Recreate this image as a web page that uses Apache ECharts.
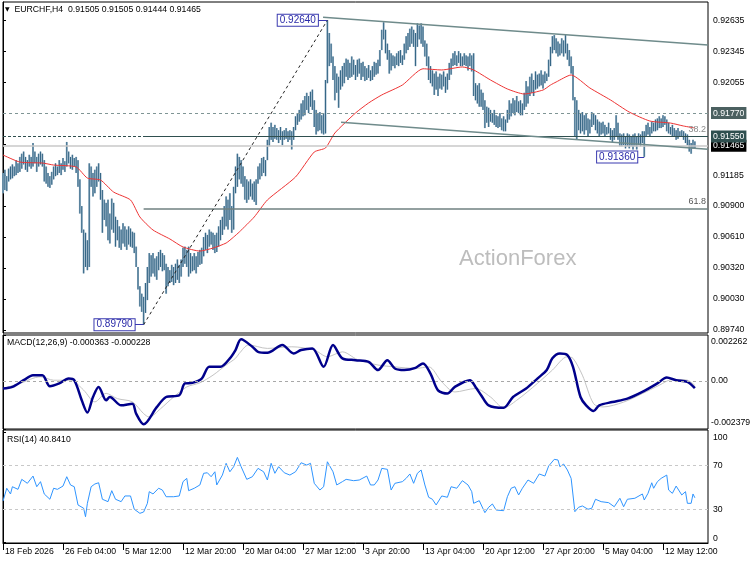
<!DOCTYPE html>
<html>
<head>
<meta charset="utf-8">
<title>EURCHF H4</title>
<script src="https://cdn.jsdelivr.net/npm/echarts@6.0.0/dist/echarts.min.js"></script>
<style>
  html, body { margin: 0; padding: 0; background: #fff; }
  #chart { width: 750px; height: 563px; }
</style>
</head>
<body>
<div id="chart"></div>
<script>
// ============================================================
// Data (prices in units of 0.0001, MACD in units of 0.0001)
// ============================================================
const timeLabels = ['18 Feb 2026', '26 Feb 04:00', '5 Mar 12:00', '12 Mar 20:00', '20 Mar 04:00', '27 Mar 12:00',
  '3 Apr 20:00', '13 Apr 04:00', '20 Apr 12:00', '27 Apr 20:00', '5 May 04:00', '12 May 12:00'];
const barsPerLabel = 32;

const priceTicks = [0.92635, 0.92345, 0.92055, 0.91765, 0.91475, 0.91185, 0.90900, 0.90610, 0.90320, 0.90030, 0.89740];
const priceLabels = [0.92635, 0.92345, 0.92055, 0.91185, 0.90900, 0.90610, 0.90320, 0.90030, 0.89740];

const highs = [
  9121,9124,9118,9125,9127,9129,9127,9133,9130,9136,
  9139,9141,9136,9133,9138,9136,9149,9141,9136,9139,
  9141,9139,9133,9127,9121,9118,9122,9127,9130,9127,
  9133,9130,9135,9132,9150,9141,9136,9138,9135,9136,
  9133,9115,9090,9068,9065,9058,9130,9127,9121,9124,
  9127,9130,9121,9105,9096,9093,9096,9083,9097,9093,
  9080,9077,9071,9068,9074,9071,9068,9071,9069,9066,
  9065,9052,9033,9015,9008,9005,9018,9033,9046,9044,
  9046,9041,9043,9047,9049,9046,9044,9036,9033,9030,
  9035,9033,9036,9040,9035,9040,9051,9052,9049,9052,
  9046,9043,9046,9043,9047,9049,9051,9061,9065,9063,
  9068,9066,9065,9063,9065,9071,9077,9080,9090,9099,
  9096,9102,9090,9108,9127,9139,9136,9133,9127,9118,
  9115,9113,9115,9111,9113,9115,9127,9130,9135,9136,
  9133,9152,9164,9168,9164,9166,9163,9161,9164,9160,
  9161,9163,9160,9161,9160,9164,9174,9177,9180,9186,
  9189,9193,9196,9193,9197,9199,9189,9180,9177,9178,
  9175,9177,9208,9264,9252,9242,9230,9221,9214,9211,
  9217,9221,9224,9228,9227,9224,9230,9227,9222,9227,
  9228,9224,9225,9221,9219,9222,9217,9221,9225,9224,
  9227,9236,9255,9262,9255,9242,9236,9233,9231,9230,
  9233,9235,9236,9231,9242,9249,9252,9256,9258,9255,
  9252,9261,9259,9261,9258,9245,9242,9230,9221,9217,
  9214,9216,9211,9214,9213,9216,9211,9214,9224,9228,
  9233,9235,9231,9235,9233,9230,9233,9231,9230,9233,
  9231,9233,9205,9203,9205,9199,9196,9189,9183,9182,
  9180,9177,9180,9175,9174,9177,9172,9174,9171,9180,
  9189,9186,9191,9189,9193,9188,9189,9186,9196,9207,
  9202,9211,9214,9208,9216,9213,9214,9217,9213,9216,
  9214,9227,9239,9249,9250,9247,9244,9242,9247,9245,
  9250,9242,9236,9230,9221,9192,9189,9180,9177,9178,
  9175,9177,9172,9171,9178,9177,9175,9171,9169,9168,
  9169,9166,9164,9168,9163,9161,9163,9175,9168,9158,
  9157,9158,9155,9158,9157,9155,9157,9158,9155,9158,
  9157,9160,9160,9166,9168,9164,9169,9168,9171,9172,
  9174,9172,9175,9174,9171,9168,9164,9166,9163,9161,
  9163,9160,9161,9160,9158,9157,9152,9149,9152,9150.5
];
const lows = [
  9102,9105,9104,9113,9115,9116,9118,9119,9121,9122,
  9125,9129,9124,9122,9127,9125,9127,9130,9122,9127,
  9129,9127,9113,9111,9108,9107,9110,9115,9118,9119,
  9121,9119,9124,9122,9127,9130,9125,9124,9127,9121,
  9108,9083,9065,9027,9033,9030,9033,9108,9099,9102,
  9108,9113,9096,9065,9077,9071,9058,9055,9068,9065,
  9052,9058,9051,9049,9055,9052,9049,9054,9052,9051,
  9046,9033,9012,8996,8991,8979,8990,9002,9018,9024,
  9027,9024,9021,9030,9033,9029,9030,9008,9015,9018,
  9019,9016,9018,9021,9018,9024,9033,9036,9033,9024,
  9027,9029,9030,9027,9033,9035,9036,9043,9049,9046,
  9052,9054,9049,9046,9047,9052,9058,9063,9068,9071,
  9068,9077,9065,9068,9102,9108,9115,9111,9108,9096,
  9093,9096,9099,9096,9094,9091,9111,9115,9118,9121,
  9118,9133,9146,9152,9150,9153,9152,9149,9152,9147,
  9152,9153,9150,9152,9143,9152,9161,9166,9169,9171,
  9174,9175,9180,9177,9183,9180,9164,9157,9160,9161,
  9158,9157,9158,9205,9221,9224,9208,9189,9196,9182,
  9199,9202,9205,9211,9208,9210,9211,9213,9208,9211,
  9214,9208,9211,9207,9208,9210,9207,9208,9211,9213,
  9214,9221,9236,9246,9233,9227,9214,9217,9221,9219,
  9222,9221,9224,9222,9227,9233,9236,9239,9242,9239,
  9221,9239,9246,9242,9239,9230,9221,9208,9205,9202,
  9194,9199,9193,9200,9199,9202,9196,9199,9208,9213,
  9221,9222,9221,9224,9221,9221,9222,9221,9217,9221,
  9216,9193,9189,9186,9183,9183,9180,9163,9168,9164,
  9169,9168,9166,9164,9163,9164,9161,9160,9160,9168,
  9171,9174,9177,9175,9178,9177,9175,9175,9180,9183,
  9186,9193,9196,9193,9199,9200,9202,9203,9200,9205,
  9207,9211,9221,9233,9236,9233,9230,9231,9233,9230,
  9233,9227,9221,9214,9189,9155,9152,9161,9158,9160,
  9157,9161,9155,9158,9164,9166,9161,9158,9155,9157,
  9158,9155,9157,9158,9152,9150,9152,9155,9152,9146,
  9146,9147,9144,9146,9144,9146,9143,9146,9143,9147,
  9146,9149,9136,9155,9157,9155,9158,9160,9160,9161,
  9163,9163,9164,9166,9160,9158,9157,9155,9155,9152,
  9153,9155,9155,9152,9149,9147,9141,9139,9144,9144.4
];

// red moving average, read at key bars
const maIdx = [0,9,21,27,39,45,52,59,68,73,80,89,96,105,112,119,123,126,134,141,156,166,172,177,188,195,202,213,224,234,245,251,260,269,278,288,292,295,303,313,324,334,345,356,363,369];
const maVal = [9137.8,9131.2,9130.3,9128.4,9126.6,9116.2,9114.4,9103.1,9095.7,9079.8,9067.6,9059.2,9051.7,9047.9,9050.7,9055.4,9061.0,9065.7,9079.8,9095.7,9117.2,9140.6,9144.4,9158.4,9177.1,9186.5,9194.0,9203.3,9218.5,9217.4,9220.2,9217.4,9208.0,9199.6,9194.9,9198.6,9203.3,9206.1,9212.7,9200.5,9189.3,9178.0,9169.6,9167.7,9164.9,9163.1];

// MACD(12,26,9)
const macdIdx = [0,5,11,16,21,25,30,35,38,42,45,48,51,55,57,63,69,71,75,82,87,94,97,101,106,110,116,121,124,127,133,136,141,149,155,159,165,171,176,181,188,195,200,205,209,214,220,224,228,232,237,241,249,252,255,259,267,272,279,285,290,293,297,301,304,308,311,315,318,325,333,341,349,354,359,365,369];
const macdVal = [-3.8,-3.0,0.3,2.8,2.8,-2.7,-1.3,1.1,0.3,-9.6,-15.7,-8.0,-3.0,-9.6,-8.0,-12.1,-11.3,-16.2,-21.5,-13.0,-8.0,-7.1,-1.3,-1.0,1.1,6.9,6.9,11.1,15.2,20.5,16.8,14.3,13.8,17.7,13.5,15.2,16.0,6.9,17.7,11.1,10.2,9.4,5.3,10.2,6.1,5.3,6.4,8.6,3.6,-4.7,-6.3,-3.0,0.3,-3.0,-7.1,-12.1,-13.3,-8.0,-3.8,1.1,5.3,11.1,13.5,12.7,6.9,-8.0,-12.1,-14.9,-12.1,-10.5,-8.8,-5.5,-1.3,1.6,0.3,-0.5,-3.63];
const sigIdx = [0,9,20,27,36,43,49,55,61,69,75,78,84,91,98,105,112,119,124,126,131,141,154,166,173,181,189,200,209,220,227,234,241,252,260,267,274,285,293,301,304,309,315,320,331,341,350,357,365,369];
const sigVal = [-3.8,-1.3,2.0,0.3,0.3,-4.6,-10.4,-6.2,-8.8,-10.4,-16.2,-17.9,-13.8,-8.0,-3.0,-1.0,2.8,7.8,11.1,13.5,17.7,16.0,16.8,15.2,11.9,14.3,10.5,7.8,6.9,6.1,6.9,-0.5,-5.5,-3.8,-8.0,-13.3,-9.6,-1.3,5.3,11.9,11.1,2.8,-11.3,-12.9,-10.5,-6.3,-2.2,0.7,0.3,-2.28];

// RSI(14)
const rsiIdx = [0,2,4,5,8,10,13,16,18,20,22,25,27,29,32,34,36,38,40,43,44,45,47,49,51,53,56,58,60,63,65,68,70,73,75,77,78,80,83,85,87,91,94,96,98,99,102,105,107,109,111,113,114,117,119,121,123,125,127,130,133,136,139,141,143,145,147,150,153,156,159,162,164,166,169,171,173,176,178,181,183,187,190,194,196,198,200,202,205,207,209,213,215,217,219,221,223,225,227,229,231,234,237,239,242,245,248,250,251,254,257,259,261,263,267,269,271,273,275,277,280,283,286,289,291,294,296,297,299,301,303,305,307,309,312,314,316,319,323,326,329,331,333,337,341,342,344,346,347,349,351,354,355,357,359,362,364,365,367,368,369];
const rsiVal = [37.9,49.5,44.3,50.9,48.5,57.6,54.0,60.6,50.9,55.5,44.3,39.5,49.5,48.5,51.5,60.0,52.5,50.9,34.3,31.3,23.6,35.8,50.9,53.4,54.5,39.5,37.3,47.3,39.5,37.3,42.5,42.5,30.4,26.7,27.9,35.8,46.4,44.3,49.5,47.9,41.8,41.8,42.5,55.5,58.5,47.3,49.5,52.5,63.1,63.6,60.0,64.5,52.5,61.5,72.2,64.5,69.1,77.6,69.1,57.6,60.0,67.6,64.5,57.0,72.2,63.1,69.1,63.6,61.5,64.5,72.7,70.6,72.2,54.0,47.9,50.9,73.6,64.5,52.5,55.5,57.6,56.4,57.0,60.6,52.5,52.5,57.0,67.6,66.7,47.9,54.0,55.5,58.5,62.5,54.0,63.1,66.1,52.5,41.3,39.5,34.3,42.5,41.3,50.9,49.5,56.4,52.5,46.4,35.8,38.2,27.3,32.2,35.2,29.7,29.1,41.8,49.5,50.9,43.4,49.5,57.0,54.0,62.5,60.6,69.7,75.8,75.2,69.1,71.5,66.1,58.5,28.2,32.2,33.4,30.4,31.3,39.5,37.3,36.4,32.7,40.4,32.7,39.5,40.4,44.3,38.8,44.9,54.5,49.5,55.5,58.5,61.5,47.9,44.9,51.5,43.4,46.4,35.8,35.8,44.3,40.84];

// drawn objects
const swingLow = 0.89790, swingLowBar = 75;
const swingHigh = 0.92640, swingHighBar = 173;
const recentLow = 0.91360, recentLowBar = 342;
const resistLevel = 0.91770, supportLevel = 0.91550, lastPrice = 0.91465;
const upperTrend = [[170.7, 0.92667], [376, 0.92408]];
const lowerTrend = [[180.3, 0.91684], [376, 0.91431]];
const fib382 = swingHigh - 0.382 * (swingHigh - swingLow);
const fib618 = swingHigh - 0.618 * (swingHigh - swingLow);
const lastBarSlot = 376;

// ============================================================
// Chart
// ============================================================
const FONT = 'Liberation Sans';
const pairs = (idx, val, k) => idx.map((i, n) => [i, val[n] / k]);
const tickBars = timeLabels.map((_, k) => k * barsPerLabel);

function renderBar(params, api) {
  const top = api.coord([api.value(0), api.value(1)]);
  const bot = api.coord([api.value(0), api.value(2)]);
  return {
    type: 'group',
    children: [
      { type: 'rect', shape: { x: top[0] - 1, y: top[1], width: 2, height: Math.max(1, bot[1] - top[1]) }, style: { fill: '#9ab5c8' } },
      { type: 'line', shape: { x1: top[0], y1: top[1], x2: top[0], y2: bot[1] }, style: { stroke: '#2a5d7e', lineWidth: 0.9 } }
    ]
  };
}

const boxLabel = { show: true, position: 'end', distance: 3, color: '#fff', padding: [1, 2, 1, 2], fontSize: 8.7, lineHeight: 10, fontFamily: FONT };
const noteLabel = { position: 'left', backgroundColor: '#fff', borderColor: '#3a3ab0', borderWidth: 1, color: '#2a2aa8', padding: [1, 2, 0, 2], fontSize: 10, lineHeight: 10, fontFamily: FONT };
const blue = { color: '#3a3ab0', width: 1, type: 'solid' };

const chart = echarts.init(document.getElementById('chart'));
chart.setOption({
  animation: false,
  backgroundColor: '#fff',
  textStyle: { fontFamily: FONT },
  title: [
    { text: '{a|▼}  EURCHF,H4  0.91505 0.91505 0.91444 0.91465', left: 5, top: 5, padding: 0,
      textStyle: { fontSize: 8.7, fontWeight: 'normal', color: '#000', fontFamily: FONT, rich: { a: { fontSize: 6, fontFamily: 'DejaVu Sans', color: '#000' } } } },
    { text: 'MACD(12,26,9) -0.000363 -0.000228', left: 7, top: 338, padding: 0,
      textStyle: { fontSize: 8.7, fontWeight: 'normal', color: '#000', fontFamily: FONT } },
    { text: 'RSI(14) 40.8410', left: 7, top: 435, padding: 0,
      textStyle: { fontSize: 8.7, fontWeight: 'normal', color: '#000', fontFamily: FONT } },
    { text: 'ActionForex', left: 459, top: 248, padding: 0,
      textStyle: { fontSize: 22, fontWeight: 'normal', color: '#bdbdbd', fontFamily: FONT } }
  ],
  grid: [
    { left: 3, top: 2, width: 705, height: 331, show: true, borderColor: '#000', borderWidth: 1, outerBoundsMode: 'none' },
    { left: 3, top: 335, width: 705, height: 94, show: true, borderColor: '#000', borderWidth: 1, outerBoundsMode: 'none' },
    { left: 3, top: 430, width: 705, height: 113, show: true, borderColor: '#000', borderWidth: 1, outerBoundsMode: 'none' }
  ],
  xAxis: [0, 1, 2].map(g => ({
    type: 'value', gridIndex: g, min: 0, max: lastBarSlot, interval: barsPerLabel,
    splitLine: { show: false },
    axisLine: { show: g === 2, onZero: false, lineStyle: { color: '#000' } },
    axisTick: { show: g === 2, customValues: tickBars, length: 7, lineStyle: { color: '#000' } },
    axisLabel: { show: g === 2, customValues: tickBars, formatter: v => timeLabels[Math.round(v / barsPerLabel)] || '',
      align: 'left', padding: [0, 0, 0, 2], margin: 4, fontSize: 8.7, color: '#000', fontFamily: FONT }
  })),
  yAxis: [
    { type: 'value', gridIndex: 0, position: 'right', min: 0.89712, max: 0.92810,
      splitLine: { show: false },
      axisLine: { show: true, lineStyle: { color: '#000' } },
      axisTick: { show: true, customValues: priceTicks, length: 3, lineStyle: { color: '#000' } },
      axisLabel: { customValues: priceLabels, formatter: v => v.toFixed(5), margin: 5, fontSize: 8.7, color: '#000', fontFamily: FONT } },
    { type: 'value', gridIndex: 1, position: 'right', min: -0.002379, max: 0.002262,
      splitLine: { show: false },
      axisLine: { show: true, lineStyle: { color: '#000' } },
      axisTick: { show: true, customValues: [0.002262, 0, -0.002379], length: 3, lineStyle: { color: '#000' } },
      axisLabel: { customValues: [0.002262, 0, -0.002379], lineHeight: 13, margin: 3, fontSize: 8.7, color: '#000', fontFamily: FONT,
        formatter: v => v > 0.001 ? '\n' + v.toFixed(6) : v < -0.001 ? v.toFixed(6) + '\n' : '0.00' } },
    { type: 'value', gridIndex: 2, position: 'right', min: -0.3, max: 102.5,
      splitLine: { show: false },
      axisLine: { show: true, lineStyle: { color: '#000' } },
      axisTick: { show: true, customValues: [100, 70, 30, 0], length: 3, lineStyle: { color: '#000' } },
      axisLabel: { customValues: [100, 70, 30, 0], lineHeight: 9, margin: 5, fontSize: 8.7, color: '#000', fontFamily: FONT,
        formatter: v => v === 100 ? '\n100' : v === 0 ? '0\n' : String(v) } }
  ],
  series: [
    {
      // drawn lines, levels and notes
      type: 'line', xAxisIndex: 0, yAxisIndex: 0, data: [], clip: false, z: 1, silent: true,
      markLine: {
        symbol: ['none', 'none'], silent: true, animation: false, precision: 5, label: { show: false },
        data: [
          { yAxis: lastPrice, lineStyle: { color: '#c8c8c8', width: 1.5, type: 'solid' },
            label: Object.assign({}, boxLabel, { formatter: '0.91465', backgroundColor: '#000' }) },
          { yAxis: resistLevel, lineStyle: { color: '#7f9595', width: 1, type: [3, 3] },
            label: Object.assign({}, boxLabel, { formatter: '0.91770', backgroundColor: '#4b6060' }) },
          { yAxis: supportLevel, lineStyle: { color: '#2f4f4f', width: 1, type: [3, 2] },
            label: Object.assign({}, boxLabel, { formatter: '0.91550', backgroundColor: '#2f4f4f' }) },
          [{ coord: [swingLowBar, fib382], lineStyle: { color: '#2f4f4f', width: 1.2, type: 'solid' },
             label: { show: true, position: 'insideEndTop', distance: 2, formatter: '38.2', color: '#8a8a8a', fontSize: 9, fontFamily: FONT } },
           { coord: [lastBarSlot, fib382] }],
          [{ coord: [swingLowBar, fib618], lineStyle: { color: '#6f8080', width: 1.5, type: 'solid' },
             label: { show: true, position: 'insideEndTop', distance: 2, formatter: '61.8', color: '#555', fontSize: 9, fontFamily: FONT } },
           { coord: [lastBarSlot, fib618] }],
          [{ coord: upperTrend[0], lineStyle: { color: '#6f8b8b', width: 1.5, type: 'solid' } }, { coord: upperTrend[1] }],
          [{ coord: lowerTrend[0], lineStyle: { color: '#6f8b8b', width: 1.5, type: 'solid' } }, { coord: lowerTrend[1] }],
          [{ coord: [swingLowBar, swingLow], lineStyle: { color: '#222', width: 1, type: [3, 3] } }, { coord: [swingHighBar, swingHigh] }],
          [{ coord: [swingHighBar - 4.9, swingHigh], lineStyle: blue }, { coord: [swingHighBar, swingHigh] }],
          [{ coord: [swingLowBar - 4.6, swingLow], lineStyle: blue }, { coord: [swingLowBar, swingLow] }],
          [{ coord: [recentLowBar - 3.5, recentLow], lineStyle: blue }, { coord: [recentLowBar, recentLow] }]
        ]
      },
      markPoint: {
        symbol: 'circle', symbolSize: 1, itemStyle: { color: 'rgba(0,0,0,0)' }, silent: true, animation: false,
        label: Object.assign({ show: true, formatter: '{b}' }, noteLabel),
        data: [
          { name: '0.92640', coord: [swingHighBar, swingHigh], label: { distance: 9 } },
          { name: '0.89790', coord: [swingLowBar, swingLow], label: { distance: 8.5 } },
          { name: '0.91360', coord: [recentLowBar, recentLow], label: { distance: 6.5 } }
        ]
      }
    },
    {
      name: 'EURCHF', type: 'custom', xAxisIndex: 0, yAxisIndex: 0, z: 2,
      renderItem: renderBar,
      data: highs.map((h, i) => [i, h / 1e4, lows[i] / 1e4])
    },
    {
      name: 'MA', type: 'line', xAxisIndex: 0, yAxisIndex: 0, z: 3, showSymbol: false, smooth: 0.2,
      lineStyle: { color: '#ee3434', width: 1 },
      data: pairs(maIdx, maVal, 1e4)
    },
    {
      name: 'Signal', type: 'line', xAxisIndex: 1, yAxisIndex: 1, showSymbol: false, smooth: 0.3, z: 2,
      lineStyle: { color: '#c4c4c4', width: 1 },
      data: pairs(sigIdx, sigVal, 1e4),
      markLine: { symbol: ['none', 'none'], silent: true, label: { show: false },
        lineStyle: { color: '#a8a8a8', type: [3, 3], width: 1 }, data: [{ yAxis: 0 }] }
    },
    {
      name: 'MACD', type: 'line', xAxisIndex: 1, yAxisIndex: 1, showSymbol: false, smooth: 0.3, z: 3,
      lineStyle: { color: '#00008b', width: 2.5 },
      data: pairs(macdIdx, macdVal, 1e4)
    },
    {
      name: 'RSI', type: 'line', xAxisIndex: 2, yAxisIndex: 2, showSymbol: false,
      lineStyle: { color: '#2f95ff', width: 1 },
      data: pairs(rsiIdx, rsiVal, 1),
      markLine: { symbol: ['none', 'none'], silent: true, label: { show: false },
        lineStyle: { color: '#c8c8c8', type: [3, 3], width: 1 }, data: [{ yAxis: 70 }, { yAxis: 30 }] }
    }
  ]
});
</script>
</body>
</html>
